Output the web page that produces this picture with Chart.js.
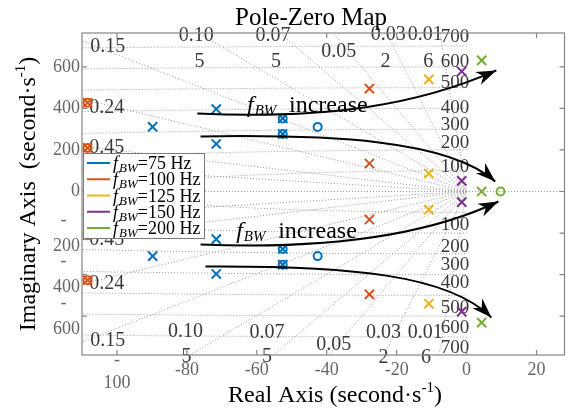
<!DOCTYPE html>
<html><head><meta charset="utf-8">
<script src="https://cdn.jsdelivr.net/npm/chart.js@4.4.0/dist/chart.umd.min.js"></script>
<style>html,body{margin:0;padding:0;background:#fff}#wrap{width:573px;height:411px}</style>
</head><body><div id="wrap"><canvas id="c" width="573" height="411"></canvas></div>
<script>
// ---------------- data ----------------
const bandwidthsHz = [75, 100, 125, 150, 200];
const seriesColors = ['#0072BD', '#D95319', '#EDB120', '#7E2F8E', '#77AC30'];
// poles / zeros as [real, imaginary]
const poles75  = [[-89.8,311],[-89.8,-311],[-71.6,397],[-71.6,-397],[-71.6,229],[-71.6,-229],[-52.6,352],[-52.6,-352],[-52.6,277],[-52.6,-277]];
const zeros75  = [[-52.6,352],[-52.6,-352],[-52.6,277],[-52.6,-277],[-42.6,311],[-42.6,-311]];
const poles100 = [[-108.4,427],[-108.4,-427],[-108.4,210],[-108.4,-210],[-27.8,495],[-27.8,-495],[-27.8,135],[-27.8,-135]];
const zeros100 = [[-108.4,427],[-108.4,-427],[-108.4,210],[-108.4,-210]];
const poles125 = [[-10.8,540],[-10.8,-540],[-10.8,87],[-10.8,-87]];
const zeros125 = [];
const poles150 = [[-1.4,578],[-1.4,-578],[-1.4,51],[-1.4,-51]];
const zeros150 = [];
const poles200 = [[4.3,631],[4.3,-631],[4.3,0]];
const zeros200 = [[9.7,0]];

const xTicks = [-100, -80, -60, -40, -20, 0, 20];
const yTicks = [-600, -400, -200, 0, 200, 400, 600];
const dampingValues = [0.01, 0.03, 0.05, 0.07, 0.10, 0.15, 0.24, 0.45, 0.7];
const naturalFreqs = [100, 200, 300, 400, 500, 600, 700];

// grid annotation labels [re, im, text]
const dampingLabels = [
  [-102.6,696,'0.15'],[-102.9,402,'0.24'],[-102.9,209,'0.45'],
  [-102.9,-233,'0.45'],[-102.9,-445,'0.24'],[-102.6,-720,'0.15'],
  [-77.3,748,'0.10'],[-55.4,748,'0.07'],[-36.6,672,'0.05'],[-22.4,753,'0.03'],[-11.8,753,'0.01'],
  [-80.4,-676,'0.10'],[-57.1,-681,'0.07'],[-38.0,-739,'0.05'],[-23.8,-681,'0.03'],[-11.8,-681,'0.01'],
  [-76.4,623,'5'],[-54.5,623,'5'],[-23.2,623,'2'],[-11.0,623,'6'],
  [-80.1,-797,'5'],[-57.1,-797,'5'],[-23.8,-801,'2'],[-11.6,-801,'6']
];
const freqLabels = [
  [-3.3,744,'700'],[-3.3,623,'600'],[-3.3,522,'500'],[-3.3,402,'400'],[-3.3,320,'300'],[-3.3,233,'200'],[-3.3,118,'100'],
  [-3.3,-161,'100'],[-3.3,-267,'200'],[-3.3,-354,'300'],[-3.3,-440,'400'],[-3.3,-561,'500'],[-3.3,-657,'600'],[-3.3,-753,'700']
];
// arrows: cubic bezier [start, ctrl1, ctrl2, tip] in data units
const trendArrows = [
  [[-77.0,376],[-39.2,347],[-13.6,419],[8.5,583]],
  [[-76.1,265],[-39.2,275],[-5.1,251],[8.2,48]],
  [[-76.1,-255],[-39.2,-280],[-10.8,-207],[9.1,-48]],
  [[-74.7,-361],[-33.5,-357],[-5.1,-400],[7.1,-607]]
];
const trendTextAnchors = [[-62.8,383],[-65.9,-224]];

const FONT = "'Liberation Serif','Times New Roman',serif";
Chart.defaults.font.family = FONT;

const polesBySeries = [poles75, poles100, poles125, poles150, poles200];
const zerosBySeries = [zeros75, zeros100, zeros125, zeros150, zeros200];
const datasets = [];
bandwidthsHz.forEach((bw, i) => {
  datasets.push({
    label: 'Poles fBW=' + bw + ' Hz',
    data: polesBySeries[i].map(([x, y]) => ({x, y})),
    pointStyle: 'crossRot', pointRadius: 6.5, pointBorderWidth: 2,
    pointBorderColor: seriesColors[i], pointBackgroundColor: seriesColors[i],
    borderColor: seriesColors[i], showLine: false
  });
  datasets.push({
    label: 'Zeros fBW=' + bw + ' Hz',
    data: zerosBySeries[i].map(([x, y]) => ({x, y})),
    pointStyle: 'circle', pointRadius: 4, pointBorderWidth: 2,
    pointBorderColor: seriesColors[i], pointBackgroundColor: 'rgba(0,0,0,0)',
    borderColor: seriesColors[i], showLine: false
  });
});

function richText(ctx, x, y, parts) {
  let cx = x;
  parts.forEach(p => {
    ctx.font = p.font;
    ctx.fillText(p.t, cx, y + (p.dy || 0));
    cx += ctx.measureText(p.t).width + (p.gap || 0);
  });
  return cx;
}

const sgridPlugin = {
  id: 'sgrid',
  beforeDatasetsDraw(chart) {
    const {ctx, chartArea: ca, scales: {x: xs, y: ys}} = chart;
    const X = v => xs.getPixelForValue(v), Y = v => ys.getPixelForValue(v);
    ctx.save();
    ctx.beginPath(); ctx.rect(ca.left, ca.top, ca.right - ca.left, ca.bottom - ca.top); ctx.clip();
    ctx.strokeStyle = '#9a9a9a'; ctx.lineWidth = 1; ctx.setLineDash([1, 2]);
    const x0 = X(0), y0 = Y(0);
    dampingValues.forEach(z => {
      const R = 5000, re = -R * z, im = R * Math.sqrt(1 - z * z);
      [1, -1].forEach(s => {
        ctx.beginPath(); ctx.moveTo(x0, y0); ctx.lineTo(X(re), Y(s * im)); ctx.stroke();
      });
    });
    ctx.beginPath(); ctx.moveTo(ca.left, y0); ctx.lineTo(ca.right, y0); ctx.stroke();
    naturalFreqs.forEach(w => {
      ctx.beginPath();
      for (let i = 0; i <= 400; i++) {
        const t = Math.PI / 2 + Math.PI * i / 400;
        const px = X(w * Math.cos(t)), py = Y(w * Math.sin(t));
        if (i) ctx.lineTo(px, py); else ctx.moveTo(px, py);
      }
      ctx.stroke();
    });
    ctx.restore();

    // grid labels
    ctx.save();
    ctx.fillStyle = '#3a3a3a'; ctx.textAlign = 'center'; ctx.textBaseline = 'middle';
    ctx.font = '20px ' + FONT;
    dampingLabels.forEach(([a, b, t]) => ctx.fillText(t, X(a), Y(b)));
    ctx.font = '19px ' + FONT;
    freqLabels.forEach(([a, b, t]) => ctx.fillText(t, X(a), Y(b)));
    ctx.restore();

    // box and inward ticks
    ctx.save();
    ctx.strokeStyle = '#858585'; ctx.lineWidth = 1.2;
    ctx.strokeRect(ca.left, ca.top, ca.right - ca.left, ca.bottom - ca.top);
    ctx.beginPath();
    xTicks.forEach(v => { const p = X(v); ctx.moveTo(p, ca.bottom); ctx.lineTo(p, ca.bottom - 5); ctx.moveTo(p, ca.top); ctx.lineTo(p, ca.top + 5); });
    yTicks.forEach(v => { const p = Y(v); ctx.moveTo(ca.left, p); ctx.lineTo(ca.left + 5, p); ctx.moveTo(ca.right, p); ctx.lineTo(ca.right - 5, p); });
    ctx.stroke();
    ctx.restore();
  },
  afterDatasetsDraw(chart) {
    const {ctx, scales: {x: xs, y: ys}} = chart;
    const X = v => xs.getPixelForValue(v), Y = v => ys.getPixelForValue(v);
    // arrows
    ctx.save();
    ctx.strokeStyle = '#000'; ctx.fillStyle = '#000'; ctx.lineWidth = 2;
    trendArrows.forEach(pts => {
      const p = pts.map(([a, b]) => [X(a), Y(b)]);
      ctx.beginPath(); ctx.moveTo(p[0][0], p[0][1]);
      ctx.bezierCurveTo(p[1][0], p[1][1], p[2][0], p[2][1], p[3][0], p[3][1]);
      ctx.stroke();
      let dx = p[3][0] - p[2][0], dy = p[3][1] - p[2][1];
      const L0 = Math.hypot(dx, dy); dx /= L0; dy /= L0;
      const nx = -dy, ny = dx, L = 18, W = 7;
      const bx = p[3][0] - dx * L, by = p[3][1] - dy * L;
      ctx.beginPath();
      ctx.moveTo(p[3][0], p[3][1]);
      ctx.lineTo(bx + nx * W - dx * 2, by + ny * W - dy * 2);
      ctx.lineTo(bx + dx * 4, by + dy * 4);
      ctx.lineTo(bx - nx * W - dx * 2, by - ny * W - dy * 2);
      ctx.closePath(); ctx.fill();
    });
    // f_BW increase
    ctx.textBaseline = 'alphabetic'; ctx.textAlign = 'left';
    trendTextAnchors.forEach(([a, b]) => {
      const x = X(a), y = Y(b);
      richText(ctx, x, y, [
        {t: 'f', font: 'italic 24px ' + FONT, gap: 1},
        {t: 'BW', font: 'italic 15px ' + FONT, dy: 3}
      ]);
      ctx.font = '24px ' + FONT;
      ctx.fillText('increase', x + 42, y);
    });
    ctx.restore();

    // legend
    const lx = 83, ly = 153, lw = 121, lh = 85;
    ctx.save();
    ctx.fillStyle = '#fff'; ctx.fillRect(lx, ly, lw, lh);
    ctx.strokeStyle = '#7a7a7a'; ctx.lineWidth = 1; ctx.strokeRect(lx + 0.5, ly + 0.5, lw, lh);
    bandwidthsHz.forEach((bw, i) => {
      const yy = ly + 10 + i * 16.25;
      ctx.strokeStyle = seriesColors[i]; ctx.lineWidth = 2;
      ctx.beginPath(); ctx.moveTo(lx + 4, yy); ctx.lineTo(lx + 27, yy); ctx.stroke();
      ctx.fillStyle = '#000'; ctx.textBaseline = 'alphabetic'; ctx.textAlign = 'left';
      richText(ctx, lx + 30, yy + 6, [
        {t: 'f', font: 'italic 18px ' + FONT, gap: 1},
        {t: 'BW', font: 'italic 13px ' + FONT, dy: 3},
        {t: '=' + bw + ' Hz', font: '18px ' + FONT}
      ]);
    });
    ctx.restore();
  },
  afterDraw(chart) {
    const {ctx} = chart;
    ctx.save();
    ctx.fillStyle = '#000'; ctx.textBaseline = 'alphabetic'; ctx.textAlign = 'left';
    // title
    ctx.font = '25px ' + FONT;
    const tt = 'Pole-Zero Map';
    ctx.fillText(tt, 311 - ctx.measureText(tt).width / 2, 25);
    // x title
    const xParts = [
      {t: 'Real Axis (second\u00b7s', font: '24px ' + FONT},
      {t: '-1', font: '15px ' + FONT, dy: -10},
      {t: ')', font: '24px ' + FONT}
    ];
    let w = 0; xParts.forEach(p => { ctx.font = p.font; w += ctx.measureText(p.t).width; });
    richText(ctx, 335 - w / 2, 402, xParts);
    // y title
    const yParts = [
      {t: 'Imaginary Axis  (second\u00b7s', font: '24px ' + FONT},
      {t: '-1', font: '15px ' + FONT, dy: -10},
      {t: ')', font: '24px ' + FONT}
    ];
    w = 0; yParts.forEach(p => { ctx.font = p.font; w += ctx.measureText(p.t).width; });
    ctx.translate(35, 194); ctx.rotate(-Math.PI / 2);
    richText(ctx, -w / 2, 0, yParts);
    ctx.restore();
  }
};

new Chart(document.getElementById('c'), {
  type: 'scatter',
  data: {datasets},
  options: {
    responsive: false, animation: false, devicePixelRatio: 1,
    layout: {padding: {top: 33, right: 6, left: 0, bottom: 0}},
    plugins: {legend: {display: false}, tooltip: {enabled: false}, title: {display: false}},
    scales: {
      x: {
        type: 'linear', position: 'bottom', min: -110, max: 28,
        afterBuildTicks: s => { s.ticks = xTicks.map(v => ({value: v})); },
        afterFit: s => { s.height = 56; },
        grid: {display: false, drawTicks: false}, border: {display: false},
        ticks: {
          autoSkip: false, maxRotation: 0, padding: -6, color: '#666',
          font: ctx => ({family: FONT, size: 18, lineHeight: (ctx.tick && ctx.tick.value === -100) ? '23px' : '43px'}),
          callback: v => v === -100 ? ['-', '100'] : String(v)
        }
      },
      y: {
        type: 'linear', min: -787, max: 763,
        afterBuildTicks: s => { s.ticks = yTicks.map(v => ({value: v})); },
        afterFit: s => { s.width = 82; },
        grid: {display: false, drawTicks: false}, border: {display: false},
        ticks: {
          autoSkip: false, padding: 2, color: '#666',
          font: {family: FONT, size: 18, lineHeight: '26px'},
          callback: v => v < 0 ? ['-   ', String(-v)] : String(v)
        }
      }
    }
  },
  plugins: [sgridPlugin]
});
</script></body></html>
